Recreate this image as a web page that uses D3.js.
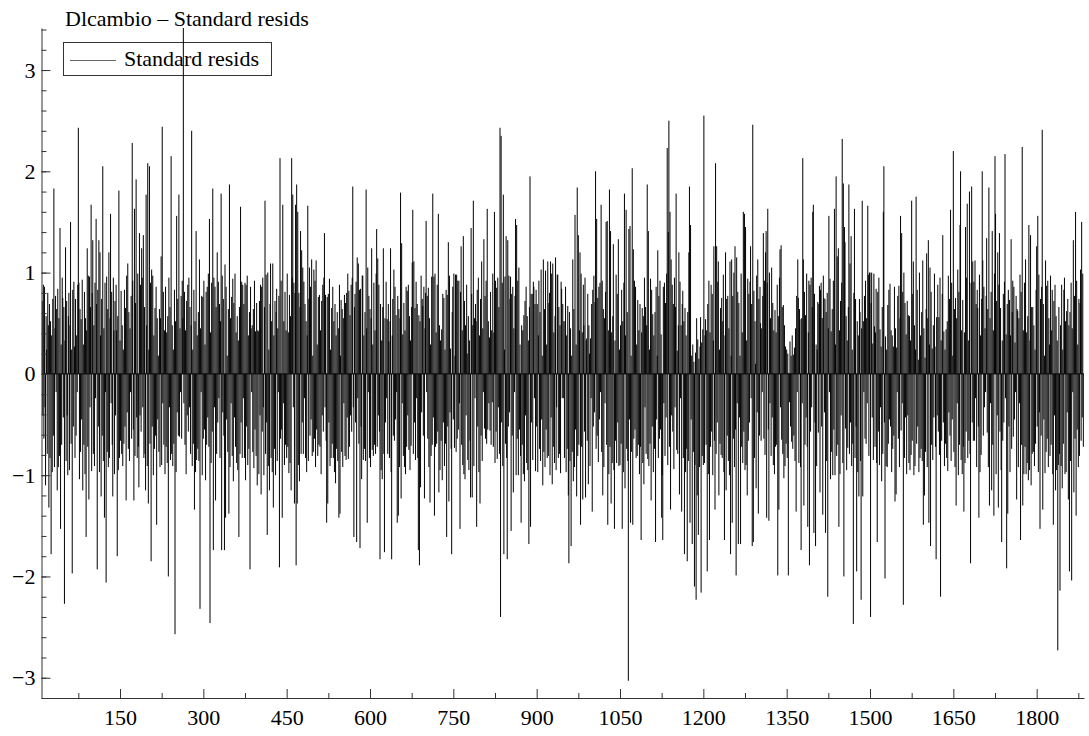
<!DOCTYPE html>
<html>
<head>
<meta charset="utf-8">
<script src="https://cdn.jsdelivr.net/npm/d3@7"></script>
<style>
  body { margin: 0; background: #fff; }
  text { font-family: "Liberation Serif", "Times New Roman", serif; }
</style>
</head>
<body>
<div id="chart"></div>
<script>
const title = 'Dlcambio – Standard resids';
const seriesName = 'Standard resids';
const xTicks = [150, 300, 450, 600, 750, 900, 1050, 1200, 1350, 1500, 1650, 1800];
const yTicks = [-3, -2, -1, 0, 1, 2, 3];

const resid0010 = [0.72,-0.41,0.88,-0.64,0.86,-0.33,-1.1,0.57,0.24,-0.79,
  0.8,0.48,-1.32,0.69,-0.83,0.52,-1.78,0.38,-0.97,0.74,
  -0.61,1.83,-0.92,0.45,0.77,-0.18,0.64,-1.15,0.84,-0.92,
  0.55,-0.81,1.44,-1.53,0.29,-0.7,0.95,0.75,-0.43,0.66,
  -2.27,0.33,1.25,-0.86,0.72,-0.41,-1.0,0.57,0.8,-0.95,
  0.48,1.5,-0.69,0.24,-1.97,0.83,-0.52,0.91,0.27,-0.83,
  0.74,-0.61,0.38,-0.18,0.88,2.43,0.9,-1.04,0.64,-0.77,
  0.54,-0.45,0.93,-1.15,0.29,-0.7,0.81,-0.99,0.55,-1.61,
  0.43,1.24,-0.72,0.97,-1.24,0.96,-0.33,0.66,1.67,-0.96,
  0.8,1.32,-0.79,0.48,-0.91,0.9,-0.24,1.53,0.69,-1.93,
  0.83,-0.52,1.32,-0.97,1.2,0.38,-1.21,0.74,-0.61,2.05,
  -0.86,0.45,-1.42,0.9,-0.18,-2.06,0.96,-0.77,0.64,-0.92,
  1.2,-0.83,0.55,1.58,-0.29,0.81,-0.7,-1.21,0.95,0.43,
  -0.99,0.72,-0.41,0.88,0.43,-1.8,0.57,-0.95,1.81,-0.83,
  0.33,-0.66,0.82,-0.79,0.48,-0.91,0.24,-0.69,0.83,-0.52,
  0.65,-1.25,0.97,-0.38,1.09,-0.74,0.61,-0.86,0.45,-0.18,
  0.77,-0.64,2.28,0.92,-0.55,-1.25,1.63,-0.81,0.7,1.92,
  -0.43,-0.83,0.99,-0.72,-1.12,1.39,-0.41,0.88,-0.57,1.24];
const resid0190 = [0.95,-0.33,1.37,-0.83,0.66,-0.79,-1.15,1.77,0.48,-0.91,
  2.08,-1.28,0.24,2.05,-0.69,0.9,-1.85,1.03,-0.52,0.97,
  -1.0,0.38,-0.74,0.65,-0.61,0.86,-1.49,0.55,-0.45,0.18,
  -0.77,0.64,-0.92,0.55,1.16,-0.9,2.44,-0.29,0.81,-0.7,
  0.43,-0.99,0.86,-0.72,0.41,-0.88,0.57,-2.0,0.95,-0.33,
  0.66,-0.85,2.15,-0.79,0.48,-0.91,0.24,-0.69,0.83,-2.57,
  0.52,-0.97,1.56,-0.38,0.74,-0.61,1.77,-0.62,0.45,-0.18,
  0.77,-0.64,0.92,0.55,3.45,-0.29,0.81,-0.7,0.43,-0.99,
  0.72,-0.41,0.88,-0.57,0.95,-0.33,0.66,-0.79,0.48,2.4,
  -0.91,0.24,-0.69,0.83,-1.34,0.52,-0.97,1.41,-0.85,0.38,
  -0.74,0.61,-0.86,1.13,-2.32,0.45,-0.18,0.77,-1.0,0.76,
  -0.64,0.92,-0.55,0.29,-1.05,0.81,-0.7,0.86,-0.43,0.99,
  -0.72,1.53,-2.46,0.41,-0.88,0.9,-0.57,1.83,-1.74,0.95,
  -0.33,0.86,-1.25,0.66,-0.79,1.2,-0.48,0.91,-0.24,0.69,
  -0.83,0.52,1.78,-1.74,0.97,-0.38,0.74,-0.61,-1.74,1.08,
  -1.42,0.86,-0.45,0.18,-0.77,0.64,-1.38,1.87,-0.92,0.55,
  -0.29,0.76,-0.81,0.94,-1.06,0.7,-0.43,0.99,-0.72,0.41,
  -0.88,0.57,-0.95,0.33,-1.61,0.66,-0.79,1.65,-0.48,0.91,
  -0.83,0.88,-0.24,0.69,-0.83,0.9,-1.05];
const resid0377 = [0.88,-0.52,0.97,-0.9,0.38,-0.74,0.61,-1.93,0.86,0.45,
  -0.18,0.48,-0.77,0.64,-0.93,0.92,-0.55,0.42,-0.81,0.7,
  -1.1,0.43,0.42,-0.99,0.72,-0.41,0.88,-1.19,0.86,-0.57,
  0.95,-0.33,-1.0,0.66,1.71,-0.79,0.98,-0.48,-1.59,1.0,
  -0.91,0.24,-1.15,0.69,1.09,-0.83,0.52,-0.97,1.09,-1.32,
  0.38,-0.74,0.72,-1.0,0.61,0.84,-0.86,0.45,-0.18,0.77,
  -1.91,2.13,-0.64,0.92,-0.55,-1.42,1.67,-0.29,0.52,-0.9,
  0.81,-0.7,0.43,-0.83,0.99,-0.72,0.41,-0.98,0.78,-0.88,
  0.57,-1.15,2.13,0.95,1.77,-0.33,0.9,-1.28,0.8,1.67,
  -1.89,1.87,-1.28,1.6,-0.9,0.8,-1.06,0.66,1.41,-0.79,
  1.22,-0.48,1.05,-0.79,0.91,-0.24,0.69,-0.83,0.52,-0.97,
  0.38,1.66,-0.86,0.74,1.05,-0.61,0.86,-0.45,1.13,-0.81,
  0.18,-0.77,1.03,-0.64,0.92,-0.92,1.12,-0.55,0.29,-0.81,
  0.76,-0.7,0.78,-0.72,0.43,-0.99,0.72,-0.41,0.88,-0.57,
  0.95,1.39,-0.33,0.78,-0.66,-1.47,0.76,-1.28,0.79,-0.48,
  0.94,-0.91,0.24,-0.83,0.65,-0.69,0.86,-0.83,0.52,-0.97,
  0.69,-1.08,0.38,-0.74,0.61,-0.86,0.45,-1.42,0.88,-1.38,
  0.18,0.73,-0.77,0.64,-0.92,0.55,-0.29,0.78,-0.81,0.7,
  -0.85,0.8,-0.43,0.99,-0.84,0.82,-0.72];
const resid0564 = [0.58,-0.41,0.88,-0.57,0.95,1.85,-0.33,-1.61,0.66,0.79,
  -0.48,0.91,-1.66,1.15,-0.24,1.09,-0.69,0.83,-1.72,0.84,
  -0.52,-1.04,0.97,0.97,-0.85,0.38,-0.74,0.61,-0.86,1.82,
  0.45,-1.47,1.05,-0.18,0.77,-0.83,0.64,-0.92,0.55,1.24,
  -0.75,0.29,-0.81,0.9,-0.7,0.43,-0.79,0.99,1.43,-0.72,
  1.14,-0.41,0.88,-0.57,-1.83,0.69,-0.95,0.33,-1.04,0.66,
  1.24,-0.79,-1.76,0.55,-0.48,0.91,-0.24,0.54,-0.79,0.69,
  0.32,-0.83,0.52,1.24,-0.97,-1.83,0.38,0.74,-0.61,1.03,
  -0.66,0.86,-0.45,0.58,-0.18,-1.47,0.77,-1.4,0.64,-0.92,
  0.55,1.79,-1.23,1.29,-0.29,0.39,-0.81,0.7,-0.92,0.43,
  -0.99,0.86,-0.72,0.82,-0.41,0.88,-0.75,0.57,-0.95,0.33,
  -0.71,0.66,1.1,1.62,-0.79,1.11,-0.48,0.65,-0.85,0.91,
  -0.24,0.69,-0.83,-1.74,0.58,-1.89,0.52,-1.12,0.97,-0.38,
  0.74,0.67,-0.61,0.86,-1.23,0.45,0.8,1.51,-0.18,0.77,
  -0.64,0.85,-0.92,0.55,-1.27,0.29,-0.81,0.96,-0.7,1.78,
  -0.43,0.96,-1.4,0.99,-0.72,0.41,-0.69,0.88,-0.57,1.58,
  -1.17,0.48,-0.95,0.33,-0.66,0.44,-1.05,0.79,-0.48,0.75,
  -0.91,0.24,-0.69,0.83,-1.61,0.78,-0.52,1.3,-1.26,0.97,
  -0.38,0.25,-0.74,-1.78,0.61,0.86,-0.45];
const resid0751 = [0.99,-0.73,0.18,0.98,-0.77,0.98,-0.64,0.92,-0.55,0.92,
  -0.29,-1.53,0.81,1.26,-0.7,0.43,-0.9,1.36,-0.99,0.72,
  -1.04,0.48,-0.41,0.88,0.2,-0.85,0.57,-0.95,0.33,-0.66,
  -1.22,1.44,0.79,-1.22,0.48,1.71,-0.91,0.55,-0.24,0.69,
  0.52,-1.51,0.83,-0.52,0.95,-0.97,0.38,-1.28,0.74,-0.61,
  1.11,-0.86,0.45,-0.18,1.33,-0.54,0.77,-0.64,0.92,-0.69,
  1.63,-0.55,0.52,-0.29,0.36,-0.56,0.81,-0.7,0.43,-0.28,
  0.99,-0.72,0.41,1.6,-0.88,0.92,-0.57,0.85,-0.84,0.95,
  -0.33,0.66,-0.79,2.43,-2.4,2.35,-0.48,0.9,-0.91,1.77,
  -1.78,0.24,0.96,-0.69,1.36,-0.83,-1.83,1.32,-0.52,0.97,
  -0.38,0.74,0.96,-1.55,0.79,-0.61,0.86,-1.17,0.45,-0.18,
  0.77,1.53,-1.0,1.47,-0.64,0.92,-1.0,1.05,-0.55,0.29,
  -0.81,-1.47,0.48,-0.7,0.43,-0.99,0.58,-1.06,0.72,-0.41,
  0.86,-0.88,0.57,-0.95,0.33,-1.68,0.66,1.95,-1.51,0.79,
  -0.48,0.79,-0.85,0.91,0.86,-0.24,0.69,-0.96,0.83,-0.52,
  0.69,-0.97,0.38,0.92,-0.74,0.61,-0.86,1.03,-0.45,0.18,
  -1.1,1.13,-0.77,0.64,-0.92,1.02,-0.55,0.29,-0.83,1.11,
  -0.81,0.7,0.8,-1.0,1.11,-0.43,0.99,-1.09,1.09,-0.72,
  0.41,-0.88,0.57,1.15,-0.95,-0.33,0.98];
const resid0938 = [0.98,-0.83,0.66,-0.79,0.48,-0.98,0.91,0.84,-0.24,0.69,
  -0.24,0.52,-0.83,0.52,0.86,-0.97,0.38,-0.74,0.67,-1.2,
  -1.87,0.61,-0.86,0.45,-1.7,0.18,-0.77,1.13,-1.06,0.64,
  -0.92,1.57,-0.55,0.29,-1.21,1.84,-0.81,1.37,-0.7,0.43,
  1.2,-1.49,0.99,-0.72,0.41,-1.24,0.88,0.48,-0.57,0.95,
  -1.22,0.33,0.35,-0.66,0.79,-1.09,0.48,0.2,-0.91,0.35,
  -0.24,0.69,-1.36,0.83,-0.52,0.97,-0.38,0.71,2.0,-0.74,
  1.53,-0.61,0.75,-0.87,0.86,-0.45,0.9,-0.18,1.67,-0.77,
  0.92,-1.2,0.64,-0.92,0.55,-0.29,0.81,1.5,-0.7,1.51,
  -1.49,0.43,-0.99,1.82,-0.72,1.41,-1.28,0.41,-0.88,0.57,
  1.28,-0.95,-1.53,0.33,-0.66,0.98,-0.88,0.79,-0.48,1.33,
  -0.91,0.24,-0.9,0.48,-0.69,0.83,-1.53,0.52,-0.97,0.9,
  1.78,-1.13,0.38,1.62,-0.74,0.61,-0.86,-3.03,1.43,-0.45,
  1.46,-1.47,0.18,-0.77,2.03,-1.49,1.23,-0.64,0.92,-0.55,
  0.86,-0.83,0.29,-0.81,0.73,-0.7,0.43,-0.99,0.69,-0.72,
  -1.64,0.41,0.65,-0.88,0.57,-1.09,0.95,-0.33,0.66,-0.79,
  0.48,1.87,-0.84,1.41,-0.91,0.24,-0.69,0.94,-1.25,0.83,
  -0.52,0.59,-0.97,0.38,-0.74,0.61,-1.66,0.86,-0.45,0.18,
  1.22,-0.83,0.77,-0.64,0.92,-0.55,0.39,-1.42];
const resid1126 = [-1.0,-1.64,0.86,-0.29,0.9,-0.81,0.7,-0.43,0.99,2.23,
  -0.9,1.4,2.5,-0.72,1.6,-1.34,1.13,-0.41,0.88,-0.57,
  0.69,-0.94,0.95,-0.33,0.66,1.78,-0.75,0.23,-0.79,0.48,
  1.2,-1.19,0.91,-0.24,0.48,-1.36,0.69,0.82,-0.83,0.52,
  -1.78,0.65,-0.97,0.38,-0.74,-1.85,0.61,-0.86,1.2,1.85,
  -1.47,1.47,-0.45,0.18,-1.68,0.29,-0.77,0.12,-2.1,-0.9,
  0.21,-2.23,0.55,-1.2,0.34,-1.59,0.15,-0.92,0.27,0.56,
  -2.16,0.31,-0.81,0.44,-0.9,2.55,-0.88,0.38,0.54,-0.7,
  0.43,-1.95,0.69,-0.99,0.92,-1.64,0.41,-0.72,0.88,-0.57,
  0.79,-1.0,0.33,1.26,-0.66,-1.34,2.08,-0.79,1.26,-0.48,
  0.91,1.11,-1.2,0.24,-0.69,0.65,-0.8,0.75,-0.83,0.52,
  0.98,-0.97,-1.64,0.38,1.2,-1.15,0.74,-0.61,0.77,-0.86,
  0.45,-1.0,1.11,-1.78,0.18,1.13,-1.47,0.77,-0.64,1.0,
  -0.92,1.26,-0.55,-1.99,1.15,-0.29,0.81,-1.68,0.7,-0.43,
  0.18,-1.68,0.99,-0.72,0.41,-0.88,1.6,-0.57,1.58,-0.95,
  1.45,-0.9,0.33,-1.2,0.94,-0.66,0.79,-0.48,0.91,1.26,
  -0.24,0.69,-1.7,2.46,-1.66,0.82,-0.83,0.52,0.1,-1.13,
  0.97,-0.38,1.13,-1.38,0.74,-0.61,0.86,0.5,-0.66,0.45,
  -0.18,0.77,1.39,-0.64,0.92,-0.8,1.2];
const resid1313 = [1.41,-1.42,0.9,1.63,-0.55,-1.45,1.0,-0.29,0.55,-0.81,
  1.05,-0.43,0.7,-0.9,0.43,-0.99,0.63,-0.72,0.41,-0.7,
  0.88,-1.99,0.57,-1.34,0.95,1.23,-0.33,1.27,-0.65,0.66,
  -0.79,0.68,-1.03,0.48,-0.91,0.27,-0.69,0.24,-0.83,0.2,
  -1.99,0.01,-0.28,0.32,-0.52,0.18,-0.67,0.38,-0.74,0.19,
  -0.61,0.26,-0.86,0.45,-1.36,0.77,-0.18,1.13,0.75,-0.88,
  0.64,0.54,-0.92,-1.74,0.55,-0.29,2.13,1.13,-1.3,0.81,
  -0.7,0.58,-0.43,0.99,-0.72,-1.51,0.41,0.92,-1.89,0.88,
  -0.57,0.95,-0.33,0.66,1.6,1.67,-1.57,0.79,-0.48,-1.7,
  0.29,-0.91,0.24,0.71,-0.58,0.69,0.87,-1.17,0.83,0.9,
  -0.52,0.55,-1.39,0.97,0.75,-0.38,0.74,-1.57,0.61,-0.86,
  0.8,-2.2,0.45,1.56,-0.18,0.94,-1.04,0.42,-0.77,0.64,
  -1.0,0.92,-0.55,1.63,-1.0,0.29,1.95,-0.81,1.16,-0.7,
  1.24,-1.51,0.43,-0.99,0.72,-0.41,0.9,2.32,-0.88,1.88,
  -2.0,1.45,1.3,-0.54,0.57,-0.95,0.33,-0.73,0.66,1.87,
  -0.79,1.09,-0.48,1.36,-0.91,0.24,-0.69,-2.47,0.8,1.63,
  -0.83,0.74,-0.52,-1.95,0.52,-0.97,0.38,-1.21,0.74,0.61,
  -0.86,-2.23,0.45,1.71,-1.21,0.52,-0.18,0.77,-0.64,0.92,
  -0.69,0.55,-0.29,1.66,0.98,-0.81,1.0];
const resid1500 = [1.0,-2.4,0.7,1.0,-0.43,0.3,-0.85,0.99,0.47,-0.72,
  0.41,0.84,-0.88,-1.66,0.81,-0.57,0.95,-0.9,0.44,-0.33,
  0.27,-1.06,0.66,-0.79,1.6,2.05,-0.48,-2.02,0.37,-0.91,
  0.24,-0.92,0.68,-0.69,0.83,-0.45,0.89,-0.52,0.43,-0.97,
  0.38,-0.74,0.27,-0.61,0.86,-1.26,0.45,-1.19,0.26,-0.18,
  0.77,-0.64,0.87,-0.92,0.55,1.56,-0.56,1.39,-0.29,0.81,
  -2.28,1.0,-0.83,0.7,-0.43,0.39,-0.99,0.72,-0.41,0.58,
  -0.88,0.57,-0.95,0.33,-0.8,1.71,-0.66,0.79,1.11,-1.0,
  0.48,-0.91,0.24,1.75,-0.69,0.83,-0.52,0.14,-0.97,1.0,
  -0.83,0.38,-0.74,0.61,-0.86,1.12,-1.49,0.45,-1.2,0.16,
  -0.77,0.64,1.19,-0.92,0.55,1.32,-1.47,0.29,1.05,-1.7,
  0.81,-0.7,0.25,-0.85,0.48,-0.43,0.99,0.27,-0.72,-1.83,
  0.56,-0.41,0.88,-0.57,0.56,-0.8,0.95,-2.2,0.33,-0.66,
  0.79,1.37,-0.48,0.42,-0.91,0.24,-0.69,0.44,-0.83,0.52,
  -0.96,0.97,-0.38,0.74,-0.61,1.62,-0.86,0.9,-0.45,0.18,
  2.2,-0.77,0.64,-0.92,0.75,-1.3,0.55,-0.29,1.03,-1.0,
  0.81,-0.7,1.47,2.0,-0.85,0.43,-0.99,0.73,-0.72,-1.36,
  0.41,-0.88,1.45,-0.57,0.95,1.68,-0.83,0.33,-0.66,1.8,
  -0.79,-1.87,0.9,1.85,-0.48,1.11,-0.66];
const resid1687 = [0.91,-0.66,1.12,-0.24,0.69,-0.92,0.83,0.65,-0.52,-1.42,
  0.98,-0.97,0.38,-0.8,0.74,2.0,1.12,-0.61,0.86,-0.33,
  0.45,-0.18,0.77,1.34,-0.58,0.64,-0.92,1.84,-1.3,0.55,
  -0.29,0.81,-1.15,1.41,-0.7,0.43,-1.4,0.99,2.15,1.58,
  -0.99,0.72,-0.41,1.2,-1.32,0.88,1.39,-0.57,0.65,-0.95,
  -1.66,0.33,-0.66,0.79,-0.48,0.91,2.17,-0.24,0.39,-1.92,
  0.69,-1.38,0.83,-0.52,0.73,-0.97,0.38,1.33,-0.74,0.61,
  0.92,-0.62,0.86,-0.45,0.31,-0.18,0.77,-1.24,0.64,0.62,
  -0.92,0.55,-0.29,0.98,-1.64,0.81,-0.7,2.24,-1.3,0.43,
  -0.99,0.9,-0.72,1.13,-0.99,0.41,-0.88,0.57,-1.05,1.47,
  -0.95,0.33,1.37,-1.1,0.66,-0.79,0.66,-0.77,0.48,-0.91,
  0.24,-0.69,0.83,1.26,-0.52,1.56,-0.97,0.98,-0.38,-1.53,
  0.74,-0.61,0.86,2.41,-1.34,0.69,-0.45,0.18,-0.98,1.12,
  -0.77,0.87,-0.64,0.92,-0.92,0.55,0.29,-0.81,0.97,-0.7,
  0.43,0.83,-0.99,-1.49,0.72,-0.41,0.88,-1.15,0.57,-0.95,
  0.33,-2.73,-0.9,0.66,-0.79,-2.14,0.48,-0.91,0.88,-1.13,
  0.24,-0.69,0.83,0.95,-0.99,0.52,-0.97,0.62,-0.38,0.74,
  -1.24,0.48,-1.95,0.61,-0.86,0.9,-2.04,0.45,-0.18,1.32,
  -1.17,0.77,-0.64,1.6,-1.4,0.92,-0.55,0.29,-0.92,0.74,
  -0.81,0.7,1.03,-0.66,1.5,-0.43,0.99,-0.72];

const segmentStarts = [10, 190, 377, 564, 751, 938, 1126, 1313, 1500, 1687];
const segmentValues = [resid0010, resid0190, resid0377, resid0564, resid0751,
  resid0938, resid1126, resid1313, resid1500, resid1687];

const data = segmentStarts.flatMap((start, s) =>
  segmentValues[s].map((v, i) => ({ obs: start + i, v })));

const width = 1089;
const height = 736;
const plot = { left: 41.5, right: 1084, top: 28, bottom: 698 };
const fontSize = 22;

const svg = d3.select('#chart')
  .append('svg')
  .attr('width', width)
  .attr('height', height)
  .attr('viewBox', [0, 0, width, height]);

const x = d3.scaleLinear()
  .domain([8.7, 1885.2])
  .range([plot.left, plot.right]);

const y = d3.scaleLinear()
  .domain([-3.2, 3.415])
  .range([plot.bottom, plot.top]);

svg.append('clipPath')
  .attr('id', 'plot-clip')
  .append('rect')
  .attr('x', plot.left)
  .attr('y', plot.top)
  .attr('width', plot.right - plot.left)
  .attr('height', plot.bottom - plot.top);

// title
svg.append('text')
  .attr('x', 65)
  .attr('y', 26)
  .attr('font-size', fontSize)
  .attr('fill', '#000')
  .text(title);

// legend (no fill, the big spike crosses it)
const legend = svg.append('g');
legend.append('rect')
  .attr('x', 63.5)
  .attr('y', 42.5)
  .attr('width', 208)
  .attr('height', 33)
  .attr('fill', 'none')
  .attr('stroke', '#333');
legend.append('line')
  .attr('x1', 70).attr('x2', 116)
  .attr('y1', 60.5).attr('y2', 60.5)
  .attr('stroke', '#000')
  .attr('stroke-width', 0.6);
legend.append('text')
  .attr('x', 124)
  .attr('y', 66)
  .attr('font-size', fontSize)
  .text(seriesName);

// spikes from zero
const spikes = d3.path();
data.forEach(d => {
  spikes.moveTo(x(d.obs), y(0));
  spikes.lineTo(x(d.obs), y(d.v));
});

svg.append('g')
  .attr('clip-path', 'url(#plot-clip)')
  .call(g => g.append('line')
    .attr('x1', x(data[0].obs)).attr('x2', plot.right)
    .attr('y1', y(0)).attr('y2', y(0))
    .attr('stroke', '#000')
    .attr('stroke-width', 1))
  .append('path')
  .attr('d', spikes.toString())
  .attr('fill', 'none')
  .attr('stroke', '#000')
  .attr('stroke-width', 1);

// axes: ticks point into the plot
function yAxis(g) {
  g.attr('transform', `translate(${plot.left},0)`)
    .call(d3.axisLeft(y).tickValues(yTicks).tickFormat(d3.format('d'))
      .tickSizeInner(-9).tickSizeOuter(0).tickPadding(6))
    .attr('font-size', fontSize)
    .attr('font-family', null);
}

function yMinor(g) {
  g.attr('transform', `translate(${plot.left},0)`)
    .call(d3.axisLeft(y).tickValues(d3.range(-32, 35, 2).map(v => v / 10)).tickSizeInner(-5).tickSizeOuter(0).tickFormat(''))
    .call(g => g.select('.domain').remove());
}

function xAxis(g) {
  g.attr('transform', `translate(0,${plot.bottom})`)
    .call(d3.axisBottom(x).tickValues(xTicks).tickFormat(d3.format('d'))
      .tickSizeInner(-9).tickSizeOuter(0).tickPadding(11.5))
    .attr('font-size', fontSize)
    .attr('font-family', null);
}

function xMinor(g) {
  g.attr('transform', `translate(0,${plot.bottom})`)
    .call(d3.axisBottom(x).tickValues(d3.range(75, 1885, 150)).tickSizeInner(-5).tickSizeOuter(0).tickFormat(''))
    .call(g => g.select('.domain').remove());
}

svg.append('g').call(yMinor);
svg.append('g').call(xMinor);
svg.append('g').call(yAxis);
svg.append('g').call(xAxis);

svg.selectAll('.domain, .tick line').attr('stroke', '#333');
svg.selectAll('.tick text').attr('fill', '#000');
</script>
</body>
</html>
